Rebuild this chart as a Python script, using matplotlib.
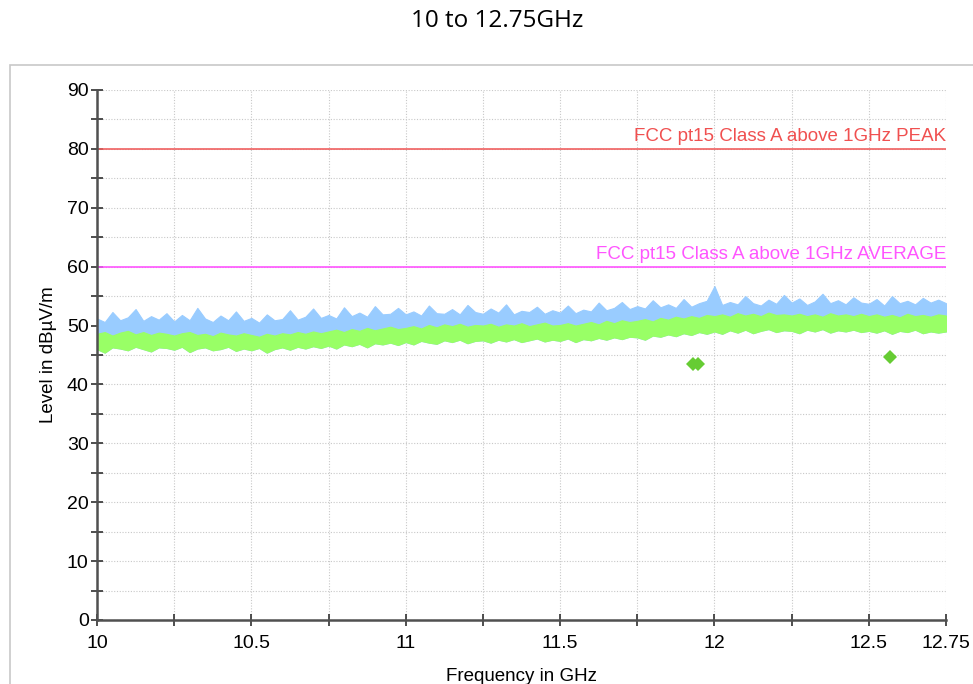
import numpy as np
import matplotlib
matplotlib.use('Agg')
import matplotlib.pyplot as plt
from matplotlib.patches import Rectangle

# frequency grid of the traced envelopes (GHz, 0.025 steps)
freq = np.linspace(10.0, 12.75, 111)

# peak trace, upper edge (dBuV/m)
peak_hi = [51.2, 50.6, 52.3, 50.9, 51.4, 52.8, 50.8, 51.6, 51.0, 52.1,
           50.7, 51.8, 50.9, 53.0, 51.2, 50.6, 51.7, 50.9, 52.4, 50.8,
           51.3, 50.5, 51.9, 50.9, 51.1, 52.6, 51.0, 51.5, 52.9, 51.3,
           51.8, 51.2, 53.1, 51.6, 52.2, 51.5, 53.3, 51.9, 52.0, 53.0,
           51.9, 52.4, 51.7, 53.4, 52.1, 52.0, 52.8, 51.9, 53.5, 52.3,
           52.0, 52.9, 52.2, 53.6, 51.9, 52.5, 52.3, 53.2, 52.0, 52.6,
           52.2, 53.4, 52.1, 52.7, 52.4, 53.9, 52.6, 53.0, 54.0, 52.8,
           53.3, 52.9, 54.3, 53.1, 53.6, 53.0, 54.5, 53.2, 53.8, 54.2,
           56.7, 53.5, 54.0, 53.6, 55.0, 53.8, 53.4, 54.4, 53.7, 55.2,
           53.9, 54.6, 53.5, 54.1, 55.4, 53.8, 54.3, 53.6, 54.8, 53.9,
           53.7, 54.5, 53.4, 55.0, 53.8, 54.2, 53.6, 54.7, 53.9, 54.4,
           53.8]

# average trace, upper and lower edges (dBuV/m)
avg_hi = [48.6, 48.9, 48.3, 48.8, 49.1, 48.5, 48.9, 48.4, 48.8, 48.6,
          48.3, 48.7, 48.9, 48.4, 48.6, 48.2, 48.8, 48.5, 48.3, 48.7,
          48.4, 48.1, 48.6, 48.3, 48.7, 48.5, 48.9, 48.6, 49.0, 48.7,
          49.0, 49.3, 48.9, 49.4, 49.1, 49.6, 49.2, 49.5, 49.8, 49.4,
          49.6, 49.9, 49.5, 50.1, 49.7, 50.2, 49.9, 50.3, 49.8, 50.1,
          50.0, 50.3, 49.8, 50.2, 50.0, 50.4, 49.9, 50.2, 50.5, 50.0,
          50.1, 50.4, 50.0, 50.3, 50.6, 50.2, 50.8, 50.4, 50.9, 50.6,
          50.8, 51.1, 50.7, 51.3, 51.0, 51.5, 51.2, 51.6, 51.3, 51.8,
          51.6, 51.9, 51.5, 52.1, 51.7, 52.0, 51.6, 52.2, 51.8, 51.9,
          51.7, 52.0, 51.6, 51.9, 51.5, 52.1, 51.7, 51.9, 51.6, 52.0,
          51.6, 51.9, 51.5, 51.8, 51.4, 52.0, 51.6, 51.8, 51.5, 51.9,
          51.7]
avg_lo = [46.0, 45.4, 46.3, 46.1, 45.8, 46.4, 46.0, 45.6, 46.3, 46.2,
          45.9, 46.4, 45.5, 46.1, 46.3, 45.8, 46.0, 46.4, 45.7, 46.1,
          45.8, 46.2, 45.4, 46.0, 46.3, 45.9, 46.4, 46.1, 46.5, 46.2,
          46.6, 46.1, 46.8, 46.5, 46.9, 46.3, 47.0, 46.8, 47.1, 46.7,
          47.2, 46.8, 47.4, 47.1, 46.9, 47.5, 47.2, 47.6, 47.0, 47.4,
          47.5, 47.1, 47.6, 47.3, 47.7, 47.2, 47.5, 47.8, 47.3, 47.6,
          47.4, 47.8, 47.2, 47.7, 47.5, 47.9, 47.6, 48.0, 47.7, 48.1,
          48.0, 47.6, 48.3, 48.1, 48.5, 48.2, 48.7, 48.4, 48.9, 48.6,
          49.0, 48.6, 49.2, 48.8, 49.3, 48.7, 49.1, 49.4, 48.9, 49.2,
          49.1, 48.7, 49.3, 49.0, 49.4, 48.8, 49.2, 49.0, 49.3, 48.9,
          49.1, 48.8, 49.2, 48.6, 49.1, 48.9, 49.3, 48.7, 49.0, 48.8,
          49.0]

# final measurement points
final_freq = [11.93, 11.948, 12.567]
final_level = [43.5, 43.4, 44.6]

limit_peak = 80
limit_avg = 60
limit_peak_label = 'FCC pt15 Class A above 1GHz PEAK'
limit_avg_label = 'FCC pt15 Class A above 1GHz AVERAGE'

xtick_pos = [10, 10.5, 11, 11.5, 12, 12.5, 12.75]
xtick_lbl = ['10', '10.5', '11', '11.5', '12', '12.5', '12.75']

plt.rcParams['font.family'] = ['Liberation Sans', 'DejaVu Sans']

fig = plt.figure(figsize=(9.73, 6.84), dpi=100)
fig.patches.append(Rectangle((10/973, -0.1), 1.0, (684-65)/684 + 0.1,
                             transform=fig.transFigure, fill=False,
                             edgecolor='#c8c8c8', linewidth=1.2))
fig.text(0.511, 0.97, '10 to 12.75GHz', ha='center', va='center',
         fontsize=17.5, family=['Open Sans', 'DejaVu Sans'])

ax = fig.add_axes([97/973, 64/684, 849/973, 530/684])

ax.fill_between(freq, avg_lo, peak_hi, color='#99ccff', linewidth=0.8, edgecolor='#99ccff')
ax.fill_between(freq, avg_lo, avg_hi, color='#99ff66', linewidth=0.8, edgecolor='#99ff66')
ax.plot(final_freq, final_level, 'D', color='#66cc33', markersize=7, markeredgewidth=0)

ax.axhline(limit_peak, color='#f06060', linewidth=1.2)
ax.axhline(limit_avg, color='#ff55ff', linewidth=1.2)
ax.text(12.75, limit_peak + 0.6, limit_peak_label, ha='right', va='bottom',
        color='#f05050', fontsize=13.5)
ax.text(12.75, limit_avg + 0.6, limit_avg_label, ha='right', va='bottom',
        color='#ff55ff', fontsize=13.5)

ax.set_xlim(10, 12.75)
ax.set_ylim(0, 90)
ax.set_xticks(np.arange(10, 12.76, 0.25))
ax.set_xticklabels([xtick_lbl[xtick_pos.index(v)] if v in xtick_pos else ''
                    for v in np.round(np.arange(10, 12.76, 0.25), 2)])
ax.set_yticks(np.arange(0, 91, 10))
ax.set_yticks(np.arange(5, 90, 10), minor=True)
ax.tick_params(axis='both', direction='inout', length=8, width=1.2, color='#303030',
               labelsize=14)
ax.tick_params(axis='x', pad=7)
ax.tick_params(axis='y', pad=2)
ax.tick_params(axis='y', which='minor', direction='inout', length=8, width=1.2, color='#303030')
ax.grid(True, which='both', linestyle=(0, (1, 1.5)), color='#c8c8c8', linewidth=0.8)
ax.set_axisbelow(True)

for s in ['top', 'right']:
    ax.spines[s].set_visible(False)
for s in ['left', 'bottom']:
    ax.spines[s].set_color('#505050')
    ax.spines[s].set_linewidth(1.8)

ax.set_ylabel('Level in dBµV/m', fontsize=13.5)
ax.yaxis.set_label_coords(-0.047, 0.5)
ax.set_xlabel('Frequency in GHz', fontsize=13.5)
ax.xaxis.set_label_coords(0.5, -0.09)

fig.savefig('out.png', dpi=100)
